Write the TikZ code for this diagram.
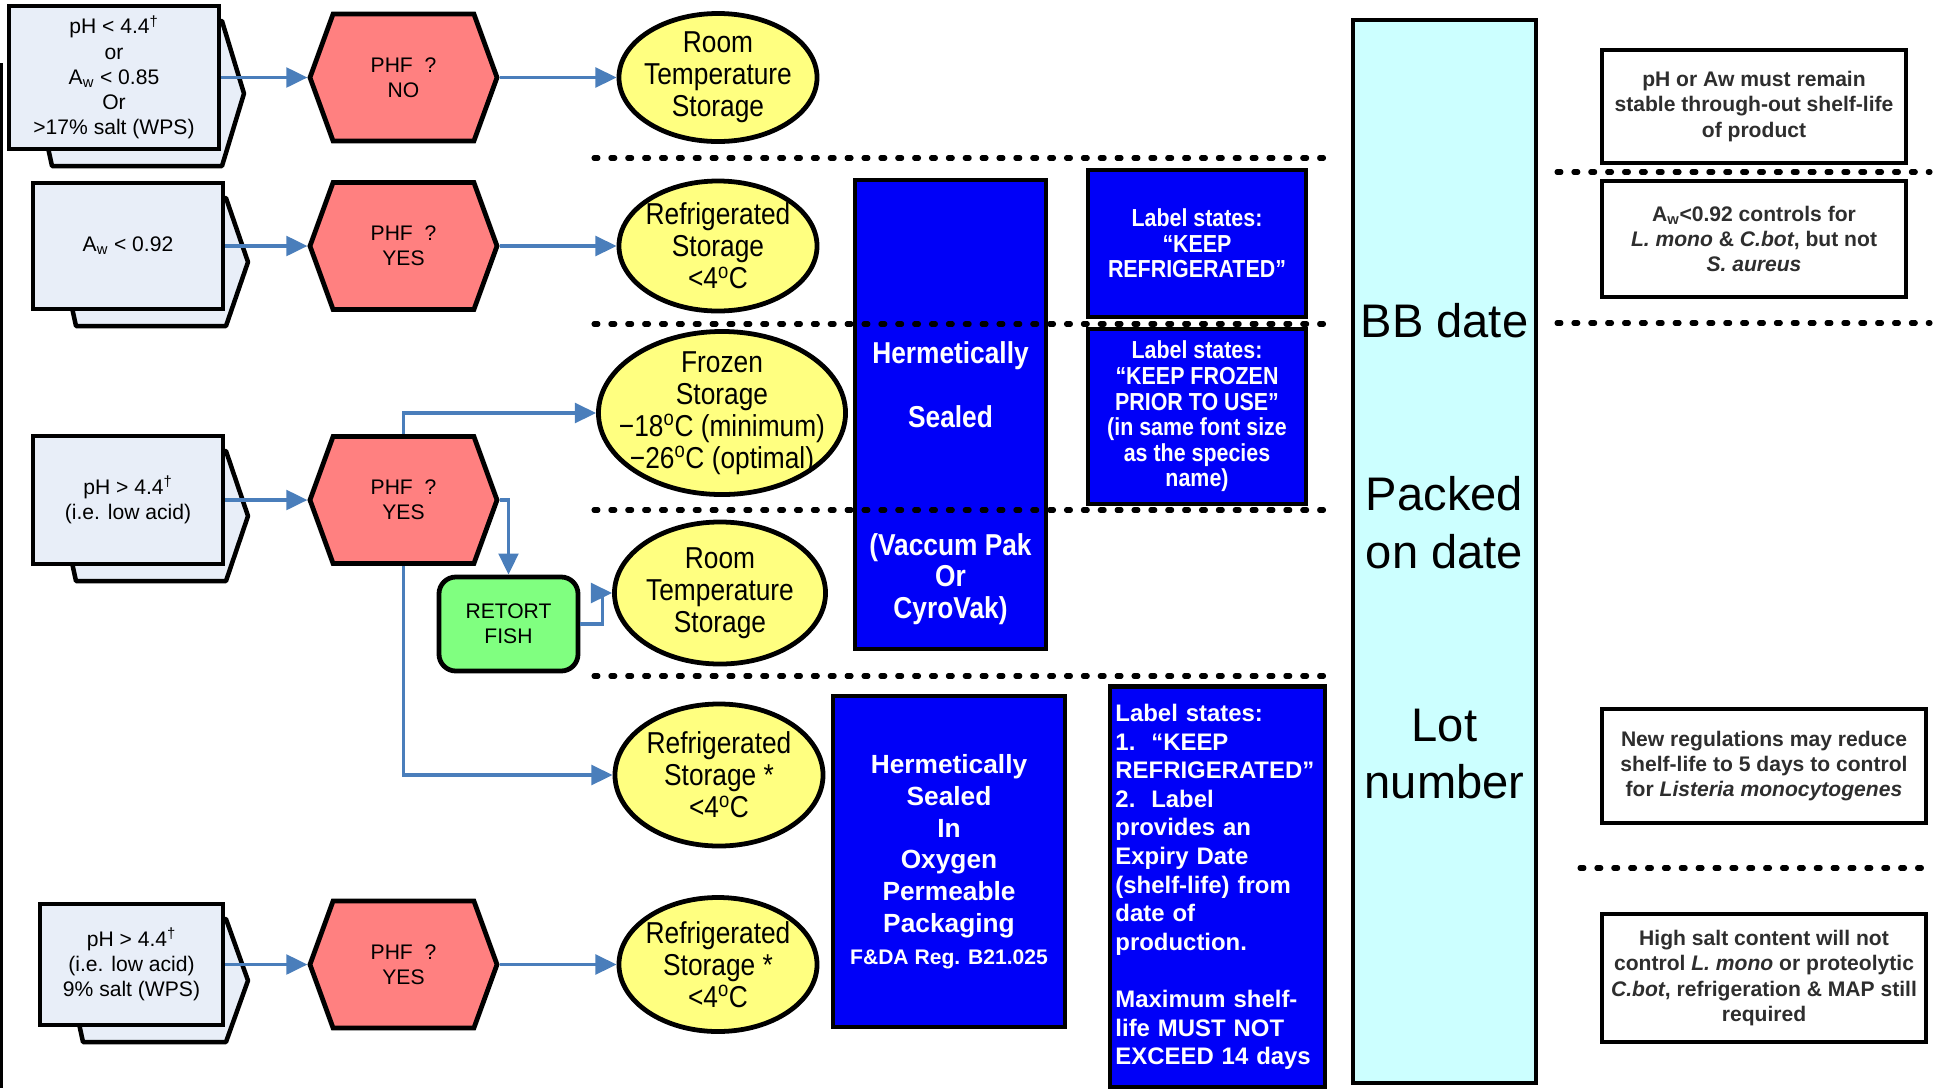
\documentclass[tikz,border=0pt]{standalone}
\usepackage{fontspec}
\setmainfont{Liberation Sans}
\newfontfamily\narrowfont{Liberation Sans}[FakeStretch=0.87]
\usetikzlibrary{shapes.geometric,shapes.symbols,arrows.meta}

\definecolor{condfill}{HTML}{E8EEF8}
\definecolor{phffill}{HTML}{FF8080}
\definecolor{storefill}{HTML}{FFFF80}
\definecolor{retortfill}{HTML}{80FF80}
\definecolor{sealblue}{HTML}{0000F8}
\definecolor{datefill}{HTML}{CCFFFF}
\definecolor{flowblue}{HTML}{4A7EBB}
\definecolor{notetext}{HTML}{2E2E2E}

\tikzset{
  condbox/.style={draw, line width=3.4pt, fill=condfill, align=center, font=\fontsize{15}{18}\selectfont},
  stackback/.style={draw, line width=3.2pt, fill=condfill, line join=round},
  phfhex/.style={signal, signal to=west and east, signal pointer angle=140, draw, line width=3.4pt,
    fill=phffill, align=center, font=\fontsize{15}{18}\selectfont, minimum width=4.675cm, minimum height=3.175cm},
  store/.style={ellipse, draw, line width=3.4pt, fill=storefill, align=center, inner xsep=-14pt, inner ysep=-8pt,
    font={\narrowfont\fontsize{21.5}{22.7}\selectfont}},
  bluebox/.style={draw, line width=3.4pt, fill=sealblue, text=white, align=center},
  datebox/.style={draw, line width=3pt, fill=datefill, align=center, font=\fontsize{33.5}{41}\selectfont},
  notebox/.style={draw, line width=3.4pt, fill=white, align=center, text=notetext, font=\fontsize{15}{18}\selectfont\bfseries},
  flow/.style={draw=flowblue, line width=2.3pt, -{Triangle[length=15pt,width=14pt]}},
  divider/.style={line width=3.6pt, line cap=round, dash pattern=on 2.8pt off 9.2pt}
}

\begin{document}
\begin{tikzpicture}[x=0.025cm, y=-0.025cm]
    \useasboundingbox (0,0) rectangle (1941,1088);
    \draw[line width=1.5pt] (1.5,63) -- (1.5,1088);

    % Conditions (stacked boxes)
    \foreach \l/\t/\r/\b in {9/6/219/149, 33/183/223/309, 33/436/223/564, 40/904/223/1025} {
        \draw[stackback] ({\l+38},{\b-6}) -- ({\l+43},{\b+17}) -- ({\r+3},{\b+17})
            -- ({\r+25},{(\t+\b)/2+16}) -- ({\r+3},{\t+15}) -- ({\r-10},{\t+15}) -- cycle;
    }
    \node[condbox, minimum width=5.25cm, minimum height=3.575cm] (cond1) at (114,77.5)
        {pH < 4.4\textsuperscript{†}\\or\\A\textsubscript{w} < 0.85\\Or\\>17\% salt (WPS)};
    \node[condbox, minimum width=4.75cm, minimum height=3.15cm] (cond2) at (128,246) {A\textsubscript{w} < 0.92};
    \node[condbox, minimum width=4.75cm, minimum height=3.2cm] (cond3) at (128,500)
        {pH > 4.4\textsuperscript{†}\\(i.e. low acid)};
    \node[condbox, minimum width=4.575cm, minimum height=3.025cm] (cond4) at (131.5,964.5)
        {pH > 4.4\textsuperscript{†}\\(i.e. low acid)\\9\% salt (WPS)};

    % PHF decisions
    \node[phfhex] (phf1) at (403.5,77.5) {PHF\ \ ?\\NO};
    \node[phfhex] (phf2) at (403.5,246) {PHF\ \ ?\\YES};
    \node[phfhex] (phf3) at (403.5,500) {PHF\ \ ?\\YES};
    \node[phfhex] (phf4) at (403.5,964.5) {PHF\ \ ?\\YES};

    \node[draw, line width=3.4pt, fill=retortfill, rounded corners=12pt, align=center,
        font=\fontsize{15}{18}\selectfont, minimum width=3.475cm, minimum height=2.35cm] (retort) at (508.5,624) {RETORT\\FISH};

    % Storage
    \node[store, minimum width=4.95cm, minimum height=3.2cm] (room1) at (718,77.5) {Room\\Temperature\\Storage};
    \node[store, minimum width=4.95cm, minimum height=3.25cm] (fridge1) at (718,246)
        {Refrigerated\\Storage\\<4\textsuperscript{o}C};
    \node[store, minimum width=6.175cm, minimum height=4.075cm] (frozen) at (722,413)
        {Frozen\\Storage\\−18\textsuperscript{o}C (minimum)\\−26\textsuperscript{o}C (optimal)};
    \node[store, minimum width=5.275cm, minimum height=3.55cm] (room2) at (720,593) {Room\\Temperature\\Storage};
    \node[store, minimum width=5.2cm, minimum height=3.55cm] (fridge2) at (719,775)
        {Refrigerated\\Storage *\\<4\textsuperscript{o}C};
    \node[store, minimum width=4.95cm, minimum height=3.35cm] (fridge3) at (718,964.5)
        {Refrigerated\\Storage *\\<4\textsuperscript{o}C};

    % Flow
    \draw[flow] (cond1.east) -- (phf1.west);
    \draw[flow] (cond2.east) -- (phf2.west);
    \draw[flow] (cond3.east) -- (phf3.west);
    \draw[flow] (cond4.east) -- (phf4.west);
    \draw[flow] (phf1.east) -- (room1.west);
    \draw[flow] (phf2.east) -- (fridge1.west);
    \draw[flow] (phf4.east) -- (fridge3.west);
    \draw[flow] (phf3.north) |- (frozen.west);
    \draw[flow] (phf3.east) -| (retort.north);
    \draw[flow] (retort.east) -- ++(22,0) |- (room2.west);
    \draw[flow] (phf3.south) |- (fridge2.west);

    % Packaging and labels
    \node[bluebox, minimum width=4.775cm, minimum height=11.725cm,
        font={\narrowfont\bfseries\fontsize{21.5}{22.7}\selectfont}] (seal) at (950.5,414.5)
        {\mbox{}\\\mbox{}\\\mbox{}\\\mbox{}\\\mbox{}\\Hermetically\\\mbox{}\\Sealed\\\mbox{}\\\mbox{}\\\mbox{}\\(Vaccum Pak\\Or\\CyroVak)};
    \node[bluebox, minimum width=5.45cm, minimum height=3.675cm,
        font={\narrowfont\bfseries\fontsize{17.5}{18.2}\selectfont}] (keepref) at (1197,243.5)
        {Label states:\\“KEEP\\REFRIGERATED”};
    \node[bluebox, minimum width=5.45cm, minimum height=4.375cm,
        font={\narrowfont\bfseries\fontsize{17.5}{18.2}\selectfont}] (keepfrz) at (1197,416.5)
        {Label states:\\“KEEP FROZEN\\PRIOR TO USE”\\(in same font size\\as the species\\name)};
    \node[bluebox, minimum width=5.8cm, minimum height=8.275cm,
        font=\fontsize{18.7}{22.6}\selectfont\bfseries] (oxy) at (949,861.5)
        {Hermetically\\Sealed\\In\\Oxygen\\Permeable\\Packaging\\{\fontsize{15}{21}\selectfont F\&DA Reg. B21.025}};
    \node[bluebox, align=left, text width=5.1cm, inner xsep=2pt, minimum width=5.375cm, minimum height=10.025cm,
        font=\fontsize{17}{20.35}\selectfont\bfseries] (expiry) at (1217.5,887)
        {Label states:\\1.\ \ “KEEP\\REFRIGERATED”\\2.\ \ Label\\provides an\\Expiry Date\\(shelf-life) from\\date of\\production.\\\mbox{}\\Maximum shelf-\\life MUST NOT\\EXCEED 14 days};

    % Dividers
    \foreach \xa/\xb/\y in {594/1331/158, 594/1327/324, 594/1327/510, 594/1327/676,
            1557/1930/172, 1557/1930/323, 1580/1930/868} {
        \draw[divider] (\xa,\y) -- (\xb,\y);
    }

    % Dates
    \node[datebox, minimum width=4.575cm, minimum height=26.575cm] (dates) at (1444.5,551.5)
        {BB date\\\mbox{}\\\mbox{}\\Packed\\on date\\\mbox{}\\\mbox{}\\Lot\\number};

    % Notes
    \node[notebox, minimum width=7.6cm, minimum height=2.825cm] (note1) at (1754,106.5)
        {pH or Aw must remain\\stable through-out shelf-life\\of product};
    \node[notebox, minimum width=7.6cm, minimum height=2.9cm] (note2) at (1754,239)
        {A\textsubscript{w}<0.92 controls for\\\textit{L. mono} \& \textit{C.bot}, but not\\\textit{S. aureus}};
    \node[notebox, minimum width=8.1cm, minimum height=2.85cm] (note3) at (1764,766)
        {New regulations may reduce\\shelf-life to 5 days to control\\for \textit{Listeria monocytogenes}};
    \node[notebox, minimum width=8.1cm, minimum height=3.2cm] (note4) at (1764,978)
        {High salt content will not\\control \textit{L. mono} or proteolytic\\\textit{C.bot}, refrigeration \& MAP still\\required};
\end{tikzpicture}
\end{document}
